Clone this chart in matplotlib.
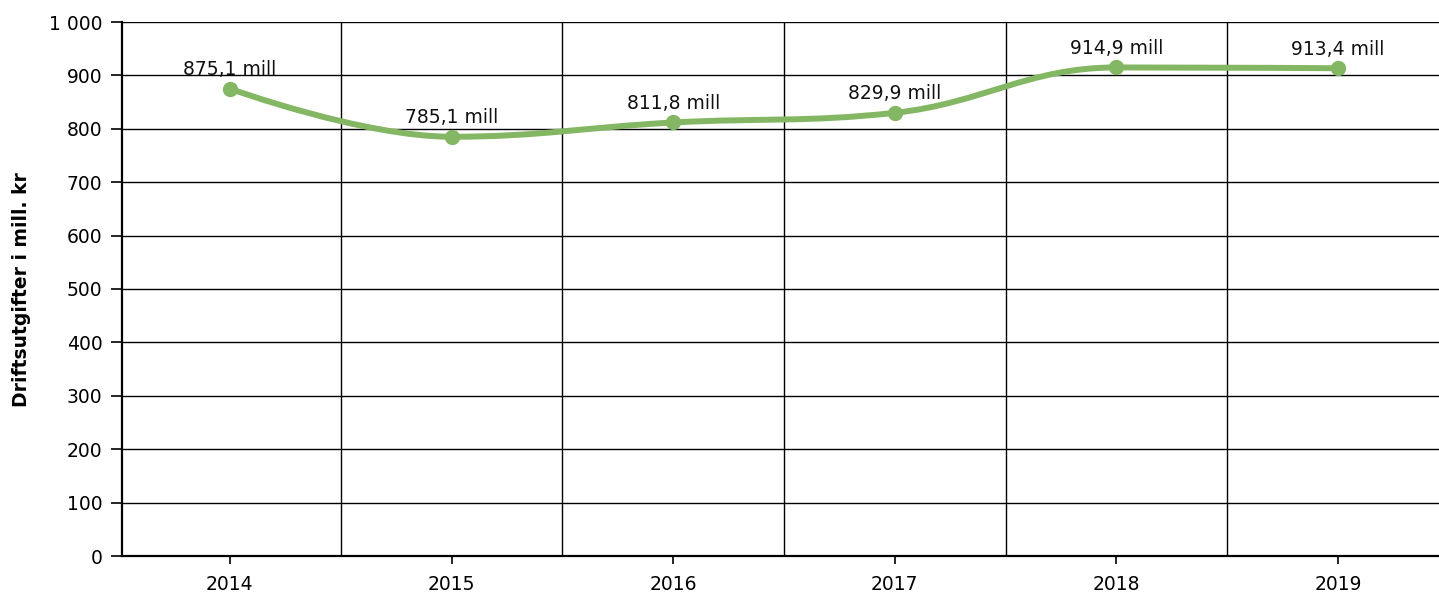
import matplotlib.pyplot as plt
from matplotlib.path import Path
from matplotlib.patches import PathPatch
from matplotlib.ticker import FuncFormatter

years = ["2014", "2015", "2016", "2017", "2018", "2019"]
values = [875.1, 785.1, 811.8, 829.9, 914.9, 913.4]
labels = ["875,1 mill", "785,1 mill", "811,8 mill", "829,9 mill", "914,9 mill", "913,4 mill"]
green = "#83b763"


def spline_path(xs, ys, smoothing=1.5):
    # highcharts-style spline control points
    n = len(xs)
    left = [(xs[i], ys[i]) for i in range(n)]
    right = [(xs[i], ys[i]) for i in range(n)]
    d = smoothing + 1
    for i in range(1, n - 1):
        x, y = xs[i], ys[i]
        lx, ly = xs[i - 1], ys[i - 1]
        nx, ny = xs[i + 1], ys[i + 1]
        lcx = (smoothing * x + lx) / d
        lcy = (smoothing * y + ly) / d
        rcx = (smoothing * x + nx) / d
        rcy = (smoothing * y + ny) / d
        corr = ((rcy - lcy) * (rcx - x)) / (rcx - lcx) + y - rcy
        lcy += corr
        rcy += corr
        if lcy > ly and lcy > y:
            lcy = max(ly, y)
            rcy = 2 * y - lcy
        elif lcy < ly and lcy < y:
            lcy = min(ly, y)
            rcy = 2 * y - lcy
        if rcy > ny and rcy > y:
            rcy = max(ny, y)
            lcy = 2 * y - rcy
        elif rcy < ny and rcy < y:
            rcy = min(ny, y)
            lcy = 2 * y - rcy
        left[i] = (lcx, lcy)
        right[i] = (rcx, rcy)
    verts = [(xs[0], ys[0])]
    codes = [Path.MOVETO]
    for i in range(1, n):
        verts += [right[i - 1], left[i], (xs[i], ys[i])]
        codes += [Path.CURVE4] * 3
    return Path(verts, codes)


fig = plt.figure(figsize=(14.39, 5.96), dpi=100)
ax = fig.add_axes([122 / 1439, 1 - 556 / 596, 1 - 122 / 1439, (556 - 22) / 596])

xs = list(range(len(years)))
ax.add_patch(PathPatch(spline_path(xs, values), facecolor="none", edgecolor=green,
                       lw=4.3, capstyle="round", zorder=3))
ax.plot(xs, values, "o", color=green, markersize=10, zorder=4)

for x, v, lab in zip(xs, values, labels):
    ax.annotate(lab, (x, v), xytext=(0, 7), textcoords="offset points",
                ha="center", va="bottom", fontsize=13.5, color="#111111")

ax.set_xlim(-0.487, 5.456)
ax.set_ylim(0, 1000)
ax.set_yticks(range(0, 1001, 100))
ax.yaxis.set_major_formatter(FuncFormatter(lambda v, p: f"{int(v):,}".replace(",", " ")))
ax.set_xticks(xs)
ax.set_xticklabels(years)
ax.set_xticks([i + 0.5 for i in range(len(years) - 1)], minor=True)
ax.grid(axis="y", which="major", color="black", lw=1.0)
ax.grid(axis="x", which="minor", color="black", lw=1.0)
ax.tick_params(axis="x", which="minor", length=0)
ax.tick_params(axis="both", which="major", labelsize=13.5, width=1.2, color="black")
ax.tick_params(axis="y", length=8, pad=6)
ax.tick_params(axis="x", length=6, pad=8)
ax.set_axisbelow(True)

for s in ["top", "right"]:
    ax.spines[s].set_visible(False)
ax.spines["left"].set_linewidth(1.6)
ax.spines["bottom"].set_linewidth(1.6)

fig.text(22 / 1439, 1 - 290 / 596, "Driftsutgifter i mill. kr", rotation=90,
         ha="center", va="center", fontsize=13.5, fontweight="bold")

fig.savefig("out.png", dpi=100)
